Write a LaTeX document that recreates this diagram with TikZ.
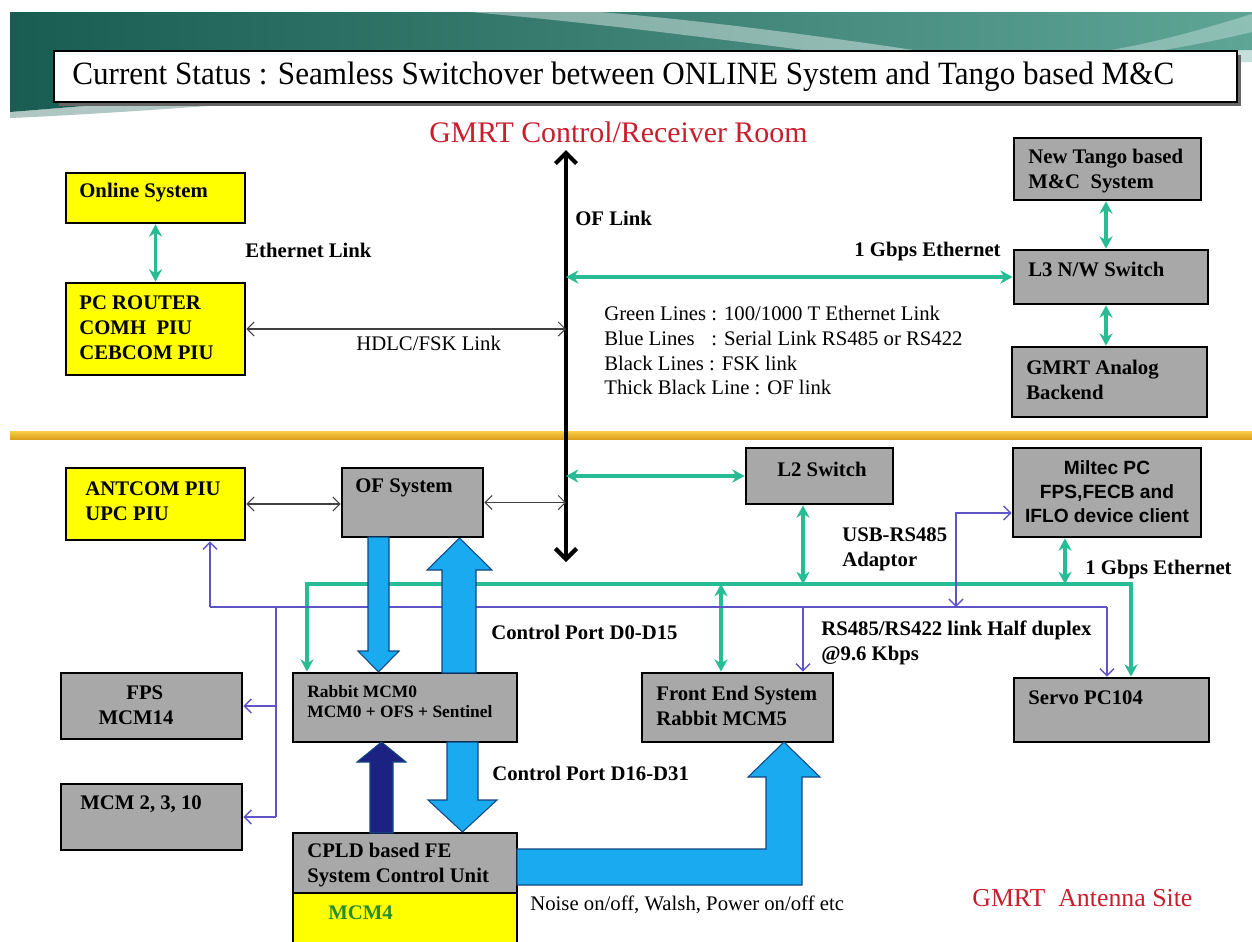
\documentclass[tikz,border=0pt]{standalone}
\usepackage{fontspec}
\setmainfont{Liberation Serif}
\newfontfamily\arialf{Liberation Sans}
\usetikzlibrary{arrows.meta,fit}
\definecolor{ygold}{RGB}{255,255,0}
\definecolor{bgray}{RGB}{168,168,168}
\definecolor{egreen}{RGB}{40,188,148}
\definecolor{sblue}{RGB}{95,85,200}
\definecolor{bigblue}{RGB}{25,170,240}
\definecolor{bigedge}{RGB}{20,70,130}
\definecolor{navyb}{RGB}{28,34,130}
\definecolor{redt}{RGB}{200,30,45}
\definecolor{mcmgreen}{RGB}{40,140,40}
\definecolor{orA}{RGB}{250,205,70}
\definecolor{orB}{RGB}{220,160,30}
\definecolor{tealA}{RGB}{25,92,82}
\definecolor{tealB}{RGB}{165,205,200}
\definecolor{tealC}{RGB}{95,165,150}
\tikzset{
  box/.style={draw=black, line width=1.6pt, inner sep=0pt},
  ybox/.style={box, fill=ygold},
  gbox/.style={box, fill=bgray},
  lbl/.style={font={\fontsize{11.8}{14.2}\selectfont\bfseries}, inner sep=0pt, align=left},
  reg/.style={font={\fontsize{11.8}{14.2}\selectfont}, inner sep=0pt, align=left},
  grn/.style={draw=egreen, line width=1.8pt},
  grn2/.style={grn, arrows={Stealth[length=7pt,width=7.5pt]-Stealth[length=7pt,width=7.5pt]}},
  blu/.style={draw=sblue, line width=0.8pt},
  bluend/.style={blu, arrows={-Straight Barb[length=4pt,width=8pt]}},
  blu2/.style={blu, arrows={Straight Barb[length=4pt,width=8pt]-Straight Barb[length=4pt,width=8pt]}},
  blk2/.style={draw=black!75, line width=0.6pt, arrows={Straight Barb[length=4pt,width=8pt]-Straight Barb[length=4pt,width=8pt]}},
  oflink/.style={draw=black, line width=2.4pt, arrows={Straight Barb[length=6pt,width=12pt]-Straight Barb[length=6pt,width=12pt]}},
  bigarr/.style={fill=bigblue, draw=bigedge, line width=0.6pt, line join=miter},
}
\begin{document}
\begin{tikzpicture}[x=0.02cm,y=-0.02cm]
\useasboundingbox (0,0) rectangle (1252,941);
\clip (0,0) rectangle (1252,941);
\fill[white] (0,0) rectangle (1252,941);
% header band
\shade[left color=tealA, middle color=tealB, right color=tealC] (10,12) -- (1252,12) -- (1252,50) .. controls (1000,54) and (520,72) .. (260,90) .. controls (160,100) and (60,108) .. (10,112) -- cycle;
\shade[left color=tealA, middle color=tealB, right color=tealC, opacity=0.35] (10,112) .. controls (60,108) and (160,100) .. (260,90) .. controls (520,72) and (1000,54) .. (1252,50) -- (1252,62) .. controls (1000,66) and (520,84) .. (260,102) .. controls (160,110) and (60,116) .. (10,118) -- cycle;
\fill[white, opacity=0.4] (470,12) .. controls (620,25) and (760,45) .. (900,62) -- (980,60) .. controls (850,40) and (720,22) .. (600,12) -- cycle;
\fill[white, opacity=0.3] (1080,55) .. controls (1150,45) and (1200,30) .. (1252,14) -- (1252,32) .. controls (1210,42) and (1160,52) .. (1120,56) -- cycle;
% title
\fill[black!60] (59,55) rectangle (1241,106);
\node[draw=black, line width=1.4pt, fill=white, inner sep=0pt, fit={(54,51) (1237,102)}] (titlebox) {};
\node[font={\fontsize{18.5}{20}\selectfont}, inner sep=0pt, anchor=west] (titletext) at (72,77) {\scalebox{0.957}[1]{Current Status : Seamless Switchover between ONLINE System and Tango based M\&C}};
\node[font={\fontsize{17}{20}\selectfont}, text=redt, inner sep=0pt, anchor=west] (roomT) at (429,132) {GMRT Control/Receiver Room};

% separator
\shade[top color=orA, bottom color=orB] (10,431) rectangle (1252,439);

% upper boxes
\node[ybox, fit={(66,173) (245,223)}] (online) {};
\node[lbl, anchor=west] (onlineT) at (79,193) {Online System};
\node[ybox, fit={(66,283) (245,375)}] (pcr) {};
\node[lbl, anchor=west] (pcrT) at (79,328) {PC ROUTER\\COMH\ \ PIU\\CEBCOM PIU};
\node[lbl, anchor=west] (ethT) at (245,250) {Ethernet Link};
\node[gbox, fit={(1014,138) (1201,200)}] (tango) {};
\node[lbl, anchor=west] (tangoT) at (1028,171) {New Tango based\\M\&C\ \ System};
\node[gbox, fit={(1014,250) (1208,304)}] (l3) {};
\node[lbl, anchor=west] (l3T) at (1028,269) {L3 N/W Switch};
\node[gbox, fit={(1012,347) (1207,417)}] (analog) {};
\node[lbl, anchor=west] (analogT) at (1026,380) {GMRT Analog\\Backend};

\coordinate (ofT) at (566,150);
\coordinate (ofB) at (566,562);
\coordinate (rx) at (1106,0);
\draw[oflink] (ofT) -- (ofB);
\node[lbl, anchor=west] (oflT) at (575,218) {OF Link};
\draw[grn2] (online.south) -- (pcr.north);
\draw[blk2] (pcr.east) -- (pcr.east -| ofT);
\node[reg, anchor=west] (hdlcT) at (356,343) {HDLC/FSK Link};
\draw[grn2] (ofT |- l3.west) -- (l3.west);
\node[lbl, anchor=west] (gb1T) at (854,252) {1 Gbps Ethernet};
\draw[grn2] (tango.south -| rx) -- (l3.north -| rx);
\draw[grn2] (l3.south -| rx) -- (analog.north -| rx);
\node[reg, anchor=west] (legend) at (604,350.5) {Green Lines : 100/1000 T Ethernet Link\\\rlap{Blue Lines}\hphantom{Green Lines} : Serial Link RS485 or RS422\\Black Lines : FSK link\\Thick Black Line : OF link};

% lower boxes
\node[ybox, fit={(66,468) (245,540)}] (antcom) {};
\node[lbl, anchor=west] (antcomT) at (85,501) {ANTCOM PIU\\UPC PIU};
\node[gbox, fit={(342,468) (483,537)}] (ofsys) {};
\node[lbl, anchor=west] (ofsysT) at (355,488) {OF System};
\node[gbox, fit={(746,448) (893,504)}] (l2) {};
\node[lbl, anchor=west] (l2T) at (777,469) {L2 Switch};
\node[gbox, fit={(1013,448) (1201,537)}] (miltec) {};
\node[font={\fontsize{10.9}{13.6}\selectfont\arialf\bfseries}, inner sep=0pt, align=center] (miltecT) at (1107,492) {Miltec PC\\FPS,FECB and\\IFLO device client};
\node[gbox, fit={(61,673) (242,739)}] (fps) {};
\node[lbl, align=center] (fpsT) at (136,705) {\hspace*{10pt}FPS\\MCM14};
\node[gbox, fit={(61,784) (242,850)}] (mcm) {};
\node[lbl, anchor=west] (mcmT) at (80,804) {MCM 2, 3, 10};
\node[gbox, fit={(293,673) (517,742)}] (rabbit) {};
\node[font={\fontsize{9.9}{11.9}\selectfont\bfseries}, inner sep=0pt, align=left, anchor=west] (rabbitT) at (307,701.5) {Rabbit MCM0\\MCM0 + OFS + Sentinel};
\node[gbox, fit={(642,673) (833,742)}] (fe) {};
\node[lbl, anchor=west] (feT) at (656,705.5) {Front End System\\Rabbit MCM5};
\node[gbox, fit={(1014,678) (1209,742)}] (servo) {};
\node[lbl, anchor=west] (servoT) at (1028,698) {Servo PC104};
\node[gbox, fit={(293,833) (517,893)}] (cpld) {};
\node[lbl, anchor=west] (cpldT) at (307,865.5) {CPLD based FE\\System Control Unit};
\node[ybox, fit={(293,893) (517,952)}] (mcm4) {};
\node[lbl, anchor=west, text=mcmgreen] (mcm4T) at (328,913) {MCM4};

% labels
\node[lbl, anchor=west] (usbT) at (842,549.5) {USB-RS485\\Adaptor};
\node[lbl, anchor=west] (gb2T) at (1085,570) {1 Gbps Ethernet};
\node[lbl, anchor=west] (cp1T) at (491,632) {Control Port D0-D15};
\node[lbl, anchor=west] (rsT) at (821,643) {RS485/RS422 link Half duplex\\@9.6 Kbps};
\node[lbl, anchor=west] (cp2T) at (492,773) {Control Port D16-D31};
\node[reg, anchor=west] (noiseT) at (530,905) {Noise on/off, Walsh, Power on/off etc};
\node[font={\fontsize{14.7}{17}\selectfont}, text=redt, inner sep=0pt, anchor=west] (siteT) at (972,898) {GMRT\ \ Antenna Site};

% black thin links
\draw[blk2] (antcom.east) -- (antcom.east -| ofsys.west);
\draw[blk2] (ofsys.east) -- (ofsys.east -| ofB);
% green links
\coordinate (busL) at (307,584);
\coordinate (busR) at (1131,584);
\coordinate (cL2) at (803,0);
\coordinate (cMil) at (1065,0);
\coordinate (cFE) at (721,0);
\draw[grn2] (ofB |- l2.west) -- (l2.west);
\draw[grn2] (rabbit.north -| busL) -- (busL) -- (busR) -- (busR |- servo.north);
\draw[grn2] (l2.south -| cL2) -- (busL -| cL2);
\draw[grn2] (miltec.south -| cMil) -- (busL -| cMil);
\draw[grn2] (busL -| cFE) -- (fe.north -| cFE);
% blue serial links
\coordinate (bbL) at (210,607);
\coordinate (bbR) at (1107,607);
\coordinate (bbB) at (276,607);
\coordinate (cFEb) at (803,0);
\coordinate (mY) at (956,513);
\draw[blu] (bbL) -- (bbR);
\draw[bluend] (bbL) -- (antcom.south -| bbL);
\draw[blu] (bbB) -- (mcm.east -| bbB);
\draw[bluend] (fps.east -| bbB) -- (fps.east);
\draw[bluend] (mcm.east -| bbB) -- (mcm.east);
\draw[bluend] (bbR) -- (servo.north -| bbR);
\draw[bluend] (bbL -| cFEb) -- (fe.north -| cFEb);
\draw[blu2] (bbL -| mY) -- (mY) -- (mY -| miltec.west);

% big data arrows
\draw[bigarr] (368,537) -- (389,537) -- (389,651) -- (399,651) -- (378.5,672) -- (358,651) -- (368,651) -- cycle;
\draw[bigarr] (442,673) -- (442,570) -- (427,570) -- (459.5,538) -- (492,570) -- (476,570) -- (476,673) -- cycle;
\draw[bigarr] (447,742) -- (478,742) -- (478,800) -- (497,800) -- (462.5,832) -- (428,800) -- (447,800) -- cycle;
\draw[fill=navyb, draw=bigedge, line width=0.6pt] (370,833) -- (370,762) -- (357,762) -- (381.5,742) -- (406,762) -- (393,762) -- (393,833) -- cycle;
\draw[bigarr] (517,849) -- (766,849) -- (766,777) -- (748,777) -- (784,742) -- (820,777) -- (802,777) -- (802,885) -- (517,885) -- cycle;
\end{tikzpicture}
\end{document}
